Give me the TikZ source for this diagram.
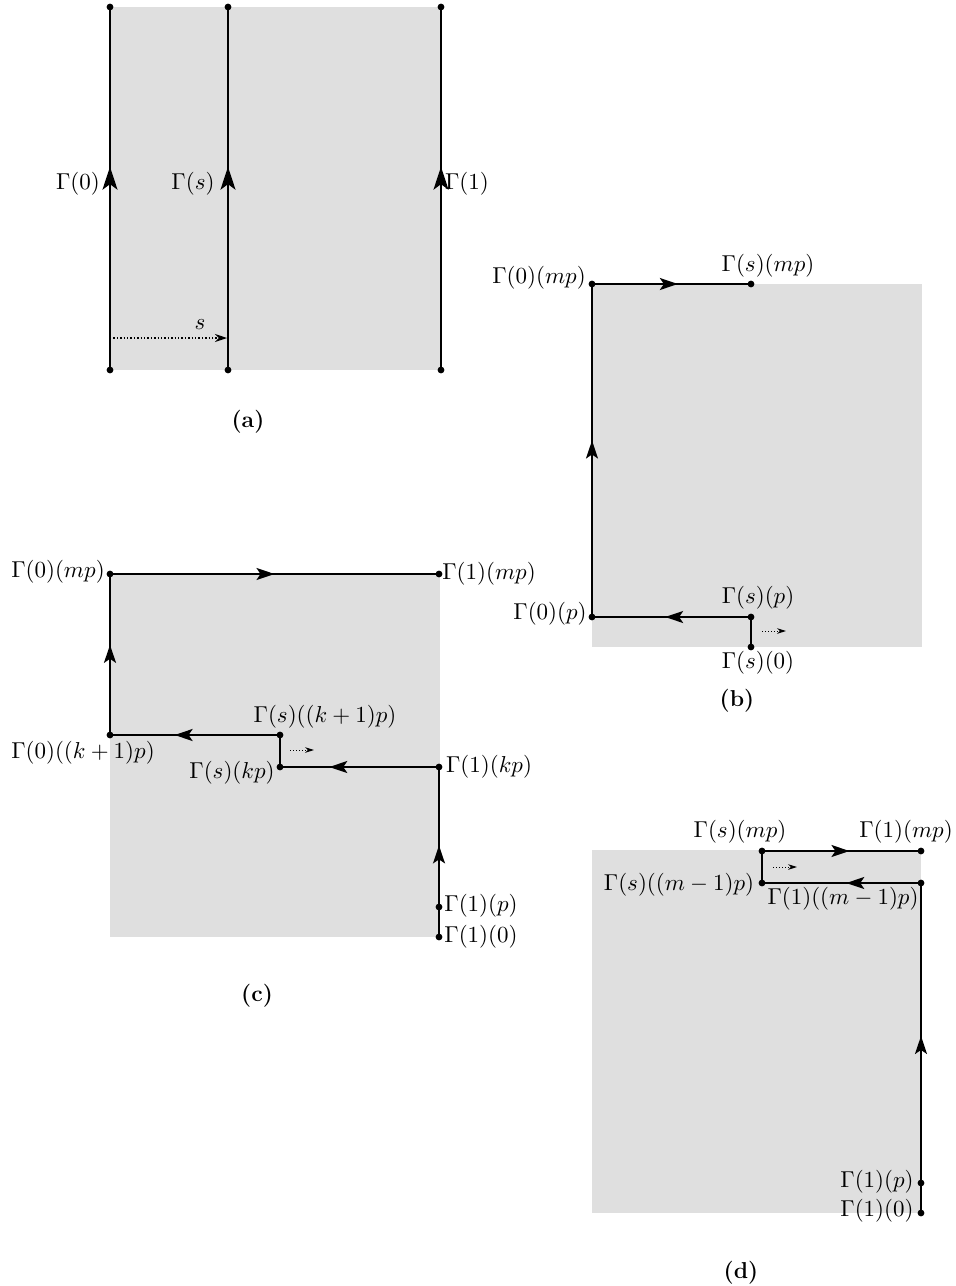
\RequirePackage{fix-cm}
\documentclass[tikz,border=0pt]{standalone}
\usetikzlibrary{arrows.meta,decorations.markings}
\begin{document}
\begin{tikzpicture}[x=0.5pt,y=-0.5pt,
  shade/.style={fill=gray!25,draw=none},
  pth/.style={line width=0.9pt},
  dotpt/.style={circle,fill=black,inner sep=0pt,minimum size=3.4pt},
  midarrow/.style={postaction={decorate},decoration={markings,mark=at position #1 with {\arrow{Stealth[length=9pt,width=6pt,inset=2pt]}}}},
  bigarrow/.style={postaction={decorate},decoration={markings,mark=at position #1 with {\arrow{Stealth[length=11.5pt,width=7.5pt,inset=2.8pt]}}}},
  flow/.style={densely dotted,line width=0.5pt,-{Stealth[length=4.5pt,width=2.8pt]}},
  lab/.style={inner sep=0pt,font=\fontsize{11.5}{14}\selectfont},
  captxt/.style={inner sep=0pt,font=\fontsize{11.5}{14}\selectfont\bfseries}]
\useasboundingbox (0,0) rectangle (955,1286);

% ---------- (a) ----------
\fill[shade] (110,7) rectangle (441,370);
\node[dotpt] (a0b) at (110,370) {};
\node[dotpt] (a0t) at (110,7) {};
\node[dotpt] (asb) at (228,370) {};
\node[dotpt] (ast) at (228,7) {};
\node[dotpt] (a1b) at (441,370) {};
\node[dotpt] (a1t) at (441,7) {};
\draw[pth,bigarrow=0.56] (a0b.center) -- (a0t.center);
\draw[pth,bigarrow=0.56] (asb.center) -- (ast.center);
\draw[pth,bigarrow=0.56] (a1b.center) -- (a1t.center);
\coordinate (sl) at (110,338);
\coordinate (sr) at (227,338);
\draw[densely dotted,line width=0.7pt,-{Stealth[length=6pt,width=4pt]}] (sl) -- (sr);
\node[lab] (ls) at (200,325) {$s$};
\node[lab] (la0) at (78,184) {$\Gamma(0)$};
\node[lab] (las) at (193,184) {$\Gamma(s)$};
\node[lab] (la1) at (467,184) {$\Gamma(1)$};
\node[captxt] (capa) at (248,422) {(a)};

% ---------- (b) ----------
\fill[shade] (592,284) rectangle (922,647);
\node[dotpt] (bs0) at (751,647) {};
\node[dotpt] (bsp) at (751,617) {};
\node[dotpt] (b0p) at (592,617) {};
\node[dotpt] (b0m) at (592,284) {};
\node[dotpt] (bsm) at (751,284) {};
\draw[pth] (bs0.center) -- (bsp.center);
\draw[pth,midarrow=0.54] (bsp.center) -- (b0p.center);
\draw[pth,midarrow=0.53] (b0p.center) -- (b0m.center);
\draw[pth,midarrow=0.54] (b0m.center) -- (bsm.center);
\coordinate (bfl) at (762,631);
\coordinate (bfr) at (786,631);
\draw[flow] (bfl) -- (bfr);
\node[lab] (lb0m) at (539,278) {$\Gamma(0)(mp)$};
\node[lab] (lbsm) at (768,266) {$\Gamma(s)(mp)$};
\node[lab] (lbsp) at (758,598) {$\Gamma(s)(p)$};
\node[lab] (lb0p) at (550,614) {$\Gamma(0)(p)$};
\node[lab] (lbs0) at (758,663) {$\Gamma(s)(0)$};
\node[captxt] (capb) at (737,701) {(b)};

% ---------- (c) ----------
\fill[shade] (110,574) rectangle (440,937);
\node[dotpt] (c10) at (439,937) {};
\node[dotpt] (c1p) at (439,907) {};
\node[dotpt] (c1k) at (439,767) {};
\node[dotpt] (csk) at (280,767) {};
\node[dotpt] (csk1) at (280,735) {};
\node[dotpt] (c0k1) at (110,735) {};
\node[dotpt] (c0m) at (110,574) {};
\node[dotpt] (c1m) at (439,574) {};
\draw[pth] (c10.center) -- (c1p.center);
\draw[pth,midarrow=0.44] (c1p.center) -- (c1k.center);
\draw[pth,midarrow=0.69] (c1k.center) -- (csk.center);
\draw[pth] (csk.center) -- (csk1.center);
\draw[pth,midarrow=0.62] (csk1.center) -- (c0k1.center);
\draw[pth,midarrow=0.56] (c0k1.center) -- (c0m.center);
\draw[pth,midarrow=0.5] (c0m.center) -- (c1m.center);
\coordinate (cfl) at (290,750);
\coordinate (cfr) at (314,750);
\draw[flow] (cfl) -- (cfr);
\node[lab] (lc0m) at (58,572) {$\Gamma(0)(mp)$};
\node[lab] (lc1m) at (489,574) {$\Gamma(1)(mp)$};
\node[lab] (lcsk1) at (325,717) {$\Gamma(s)((k+1)p)$};
\node[lab] (lc0k1) at (83,753) {$\Gamma(0)((k+1)p)$};
\node[lab] (lcsk) at (232,773) {$\Gamma(s)(kp)$};
\node[lab] (lc1k) at (489,767) {$\Gamma(1)(kp)$};
\node[lab] (lc1p) at (481,906) {$\Gamma(1)(p)$};
\node[lab] (lc10) at (481,937) {$\Gamma(1)(0)$};
\node[captxt] (capc) at (257,996) {(c)};

% ---------- (d) ----------
\fill[shade] (592,850) rectangle (921,1213);
\node[dotpt] (d10) at (921,1213) {};
\node[dotpt] (d1p) at (921,1183) {};
\node[dotpt] (d1m1) at (921,883) {};
\node[dotpt] (dsm1) at (762,883) {};
\node[dotpt] (dsm) at (762,851) {};
\node[dotpt] (d1m) at (921,851) {};
\draw[pth] (d10.center) -- (d1p.center);
\draw[pth,midarrow=0.49] (d1p.center) -- (d1m1.center);
\draw[pth,midarrow=0.47] (d1m1.center) -- (dsm1.center);
\draw[pth] (dsm1.center) -- (dsm.center);
\draw[pth,midarrow=0.55] (dsm.center) -- (d1m.center);
\coordinate (dfl) at (773,867);
\coordinate (dfr) at (797,867);
\draw[flow] (dfl) -- (dfr);
\node[lab] (ldsm) at (740,832) {$\Gamma(s)(mp)$};
\node[lab] (ld1m) at (906,832) {$\Gamma(1)(mp)$};
\node[lab] (ldsm1) at (679,885) {$\Gamma(s)((m-1)p)$};
\node[lab] (ld1m1) at (843,899) {$\Gamma(1)((m-1)p)$};
\node[lab] (ld1p) at (877,1182) {$\Gamma(1)(p)$};
\node[lab] (ld10) at (877,1211) {$\Gamma(1)(0)$};
\node[captxt] (capd) at (741,1273) {(d)};
\end{tikzpicture}
\end{document}
